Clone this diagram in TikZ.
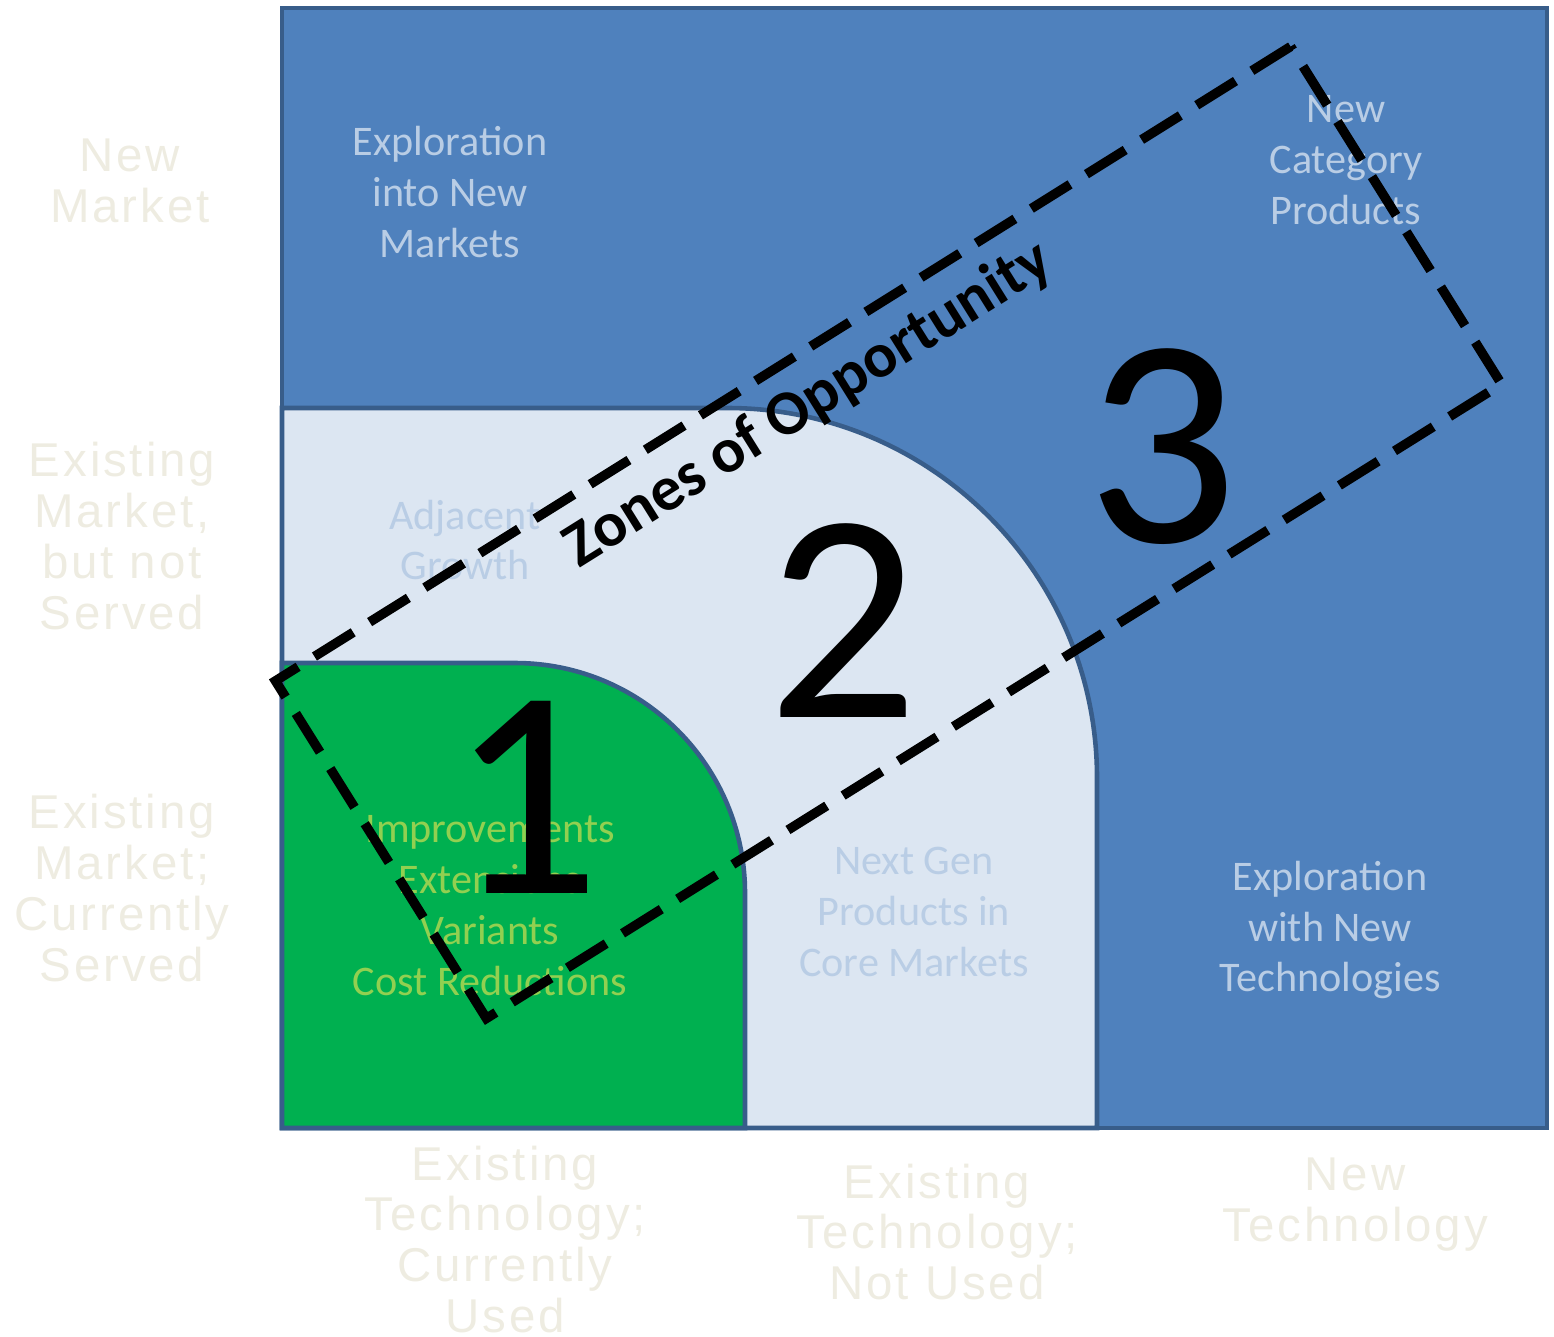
\documentclass[tikz,border=0pt]{standalone}
\usepackage{fontspec}
\setmainfont{Carlito}
\newfontfamily\axisfont[LetterSpace=6]{Liberation Sans}
\usepackage{tikz}
\usetikzlibrary{calc}

\definecolor{zoneblue}{HTML}{4F81BD}
\definecolor{zoneline}{HTML}{385D8A}
\definecolor{zonelight}{HTML}{DCE6F2}
\definecolor{zonegreen}{HTML}{00B050}
\definecolor{paletext}{HTML}{B9CDE5}
\definecolor{limetext}{HTML}{92D050}
\definecolor{axistext}{HTML}{EEECE1}

\begin{document}
\begin{tikzpicture}
        \tikzstyle{region} = [draw=zoneline, line width=1.3pt]
        \tikzstyle{label} = [align=center, text=paletext, font=\fontsize{12}{14.5}\selectfont]
        \tikzstyle{axis} = [align=center, text=axistext, font=\axisfont\fontsize{13.5}{14.5}\selectfont]
        \tikzstyle{number} = [font=\fontsize{85}{85}\selectfont]
        \tikzstyle{zonebox} = [draw, line width=2.7pt, dash pattern=on 13pt off 5.5pt, rectangle, rotate=32, minimum width=11.97cm, minimum height=3.98cm]

    \useasboundingbox (0,0) rectangle (15.54,13.36);

    % the three zones
    \path [region, fill=zoneblue] (2.82,2.08) rectangle (15.47,13.28);
    \path [region, fill=zonelight] (2.82,2.08) -- (2.82,9.28) -- (7.27,9.28) arc (90:0:3.70) -- (10.97,2.08) -- cycle;
    \path [region, fill=zonegreen] (2.82,2.08) -- (2.82,6.73) -- (5.15,6.73) arc (90:0:2.30) -- (7.45,2.08) -- cycle;

    \node [label] (explore markets) at (4.50,11.44) {Exploration\\into New\\Markets};
    \node [label] (new category) at (13.46,11.76) {New\\Category\\Products};
    \node [label] (adjacent) at (4.65,7.96) {Adjacent\\Growth};
    \node [label, text=limetext] (improvements) at (4.90,4.30) {Improvements\\Extensions\\Variants\\Cost Reductions};
    \node [label] (next gen) at (9.14,4.24) {Next Gen\\Products in\\Core Markets};
    \node [label] (explore tech) at (13.30,4.06) {Exploration\\with New\\Technologies};

    \node [number] (one) at (5.25,5.39) {1};
    \node [number] (two) at (8.43,7.15) {2};
    \node [number] (three) at (11.62,8.89) {3};

    \node [zonebox] (zones) at (8.885,8.035) {};
    \node [rotate=32, font=\bfseries\fontsize{18}{18}\selectfont] (zones label) at ($(zones.north)!0.13!(zones.south)$) {Zones of Opportunity};

    % axis labels
    \node [axis] (new market) at (1.30,11.55) {New\\Market};
    \node [axis] (not served) at (1.22,8.00) {Existing\\Market,\\but not\\Served};
    \node [axis] (served) at (1.22,4.48) {Existing\\Market;\\Currently\\Served};
    \node [axis] (tech used) at (5.05,0.965) {Existing\\Technology;\\Currently\\Used};
    \node [axis] (tech not used) at (9.37,1.04) {Existing\\Technology;\\Not Used};
    \node [axis] (new tech) at (13.55,1.31) {New\\Technology};

    \end{tikzpicture}
\end{document}
